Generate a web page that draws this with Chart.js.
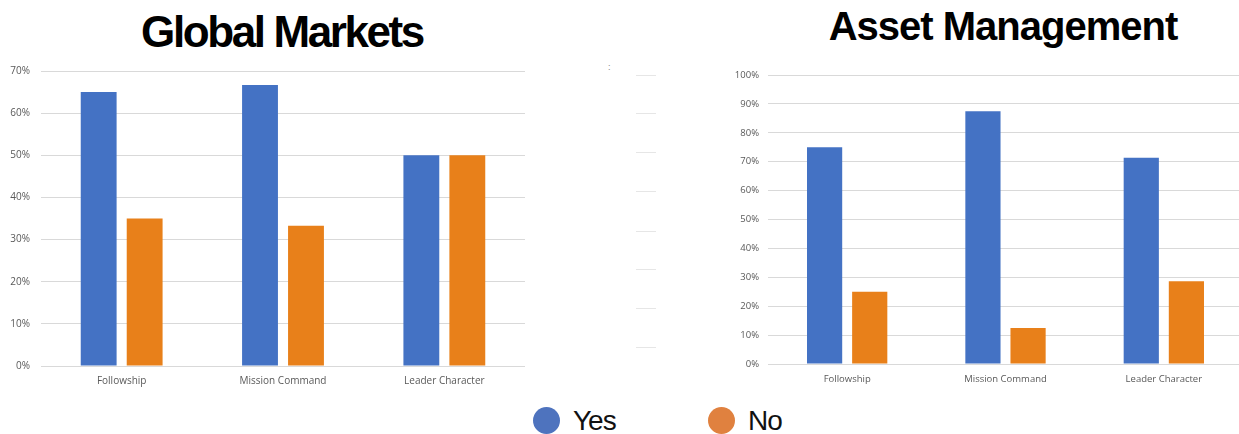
<!DOCTYPE html>
<html>
<head>
<meta charset="utf-8">
<script src="https://cdn.jsdelivr.net/npm/chart.js@4"></script>
<style>
  html, body { margin: 0; padding: 0; background: #fff; overflow: hidden; }
  body { width: 1239px; height: 434px; position: relative; font-family: "Liberation Sans", Arial, sans-serif; }
  .title { position: absolute; font-weight: bold; color: #000; line-height: 1; white-space: nowrap; transform: translateX(-50%); }
  .box { position: absolute; top: 50px; height: 345px; }
  .legend { position: absolute; top: 407px; line-height: 1; font-size: 28px; letter-spacing: -1px; color: #111; white-space: nowrap; }
  .dot { position: absolute; width: 27px; height: 27px; border-radius: 50%; top: 407px; }
  .stub { position: absolute; left: 636px; width: 20px; height: 1px; background: #e6e6e6; }
</style>
</head>
<body>
<div class="title" style="left:282px; top:10px; font-size:44px; letter-spacing:-2.4px;">Global Markets</div>
<div class="title" style="left:1003px; top:6px; font-size:40px; letter-spacing:-1px;">Asset Management</div>

<div class="box" style="left:0; width:530px;"><canvas id="gm"></canvas></div>
<div class="box" style="left:700px; width:543px;"><canvas id="am"></canvas></div>

<div id="stubs"></div>
<div style="position:absolute; left:608px; top:62px; font-size:9px; color:#888;">:</div>

<div id="legend"></div>

<script>
const categories = ["Followship", "Mission Command", "Leader Character"];
const seriesNames = ["Yes", "No"];
const barColors = ["#4472C4", "#E8801A"];
const legendColors = ["#4E73BE", "#E0813F"];

const globalYes = [65, 66.7, 50];
const globalNo = [35, 33.3, 50];
const assetYes = [75, 87.5, 71.4];
const assetNo = [25, 12.5, 28.6];

const globalTicks = [0, 10, 20, 30, 40, 50, 60, 70];
const assetTicks = [0, 10, 20, 30, 40, 50, 60, 70, 80, 90, 100];

function makeChart(id, yes, no, ticks, opts) {
  const ctx = document.getElementById(id);
  return new Chart(ctx, {
    type: "bar",
    data: {
      labels: categories,
      datasets: [
        { label: seriesNames[0], data: yes, backgroundColor: barColors[0] },
        { label: seriesNames[1], data: no, backgroundColor: barColors[1] },
      ],
    },
    options: {
      responsive: true,
      maintainAspectRatio: false,
      animation: false,
      categoryPercentage: 0.57,
      barPercentage: 0.78,
      layout: { padding: opts.padding },
      plugins: { legend: { display: false }, tooltip: { enabled: false } },
      scales: {
        x: {
          grid: { display: false, drawTicks: false },
          border: { display: false },
          ticks: { color: "#595959", padding: opts.xPad, font: { family: "Open Sans", size: opts.fontSize } },
          afterFit: (s) => { s.height = 24; },
        },
        y: {
          min: 0,
          max: ticks[ticks.length - 1],
          afterBuildTicks: (s) => { s.ticks = ticks.map((v) => ({ value: v })); },
          grid: { color: "#d9d9d9", drawTicks: false },
          border: { display: false },
          ticks: {
            color: "#595959",
            padding: opts.tickPad,
            font: { family: "Open Sans", size: opts.fontSize },
            callback: (v) => v + "%",
          },
          afterFit: (s) => { s.width = opts.axisWidth; },
        },
      },
    },
  });
}

makeChart("gm", globalYes, globalNo, globalTicks, {
  padding: { top: 21, bottom: 5, left: 0, right: 5 },
  axisWidth: 41,
  tickPad: 11,
  xPad: 9,
  fontSize: 10,
});

makeChart("am", assetYes, assetNo, assetTicks, {
  padding: { top: 25, bottom: 7, left: 0, right: 0 },
  axisWidth: 68,
  tickPad: 9,
  xPad: 10,
  fontSize: 9.5,
});

// leftover axis stubs between the two charts
const stubTops = [75, 113, 152, 191, 231, 269, 308, 347];
const stubs = document.getElementById("stubs");
stubTops.forEach((t) => {
  const d = document.createElement("div");
  d.className = "stub";
  d.style.top = t + "px";
  stubs.appendChild(d);
});

// legend
const legend = document.getElementById("legend");
const legendX = [533, 708];
seriesNames.forEach((name, i) => {
  const dot = document.createElement("div");
  dot.className = "dot";
  dot.style.left = legendX[i] + "px";
  dot.style.background = legendColors[i];
  legend.appendChild(dot);
  const txt = document.createElement("div");
  txt.className = "legend";
  txt.style.left = legendX[i] + 40 + "px";
  txt.textContent = name;
  legend.appendChild(txt);
});
</script>
</body>
</html>
